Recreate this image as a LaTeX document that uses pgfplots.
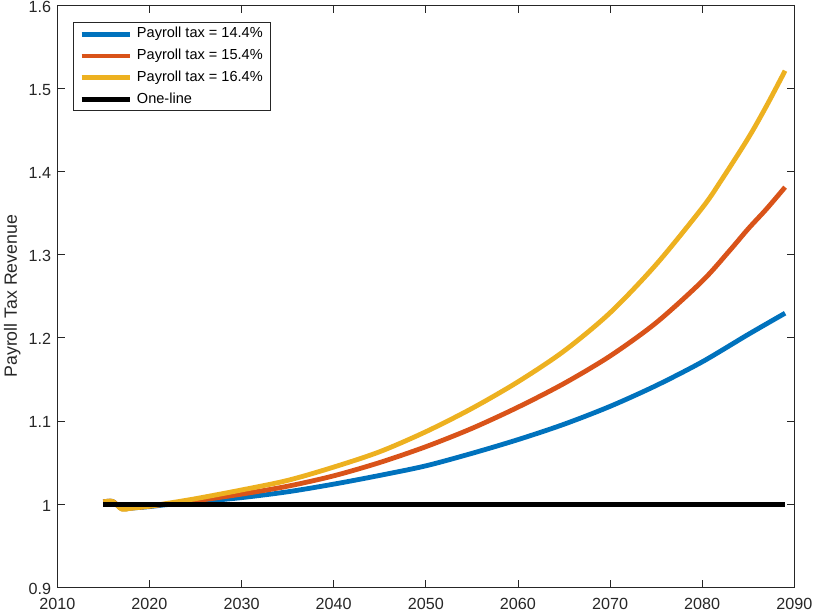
\documentclass[border=0pt]{standalone}
\usepackage{pgfplots}
\pgfplotsset{compat=1.18}
\usepackage{fontspec}
\setmainfont{Liberation Sans}

\definecolor{mblue}{rgb}{0,0.447,0.741}
\definecolor{mred}{rgb}{0.85,0.325,0.098}
\definecolor{myellow}{rgb}{0.929,0.694,0.125}
\definecolor{axgray}{rgb}{0.15,0.15,0.15}

% Payroll tax revenue relative to the one-line baseline
\pgfplotstableread{
year  rev
2015  1.0026
2016  1.0032
2017  0.9945
2018  0.9952
2020  0.9970
2022  0.9995
2025  1.0025
2030  1.0078
2035  1.0148
2040  1.0240
2045  1.0345
2050  1.0460
2055  1.0610
2060  1.0775
2065  1.0960
2070  1.1175
2075  1.1425
2080  1.1710
2085  1.2040
2089  1.2295
}\taxA

\pgfplotstableread{
year  rev
2015  1.0026
2016  1.0032
2017  0.9945
2018  0.9953
2020  0.9975
2022  1.0003
2025  1.0040
2030  1.0120
2035  1.0215
2040  1.0340
2045  1.0500
2050  1.0690
2055  1.0910
2060  1.1165
2065  1.1450
2070  1.1780
2075  1.2180
2080  1.2680
2083  1.3050
2085  1.3310
2087  1.3550
2089  1.3810
}\taxB

\pgfplotstableread{
year  rev
2015  1.0026
2016  1.0032
2017  0.9940
2018  0.9950
2020  0.9975
2022  1.0010
2025  1.0065
2030  1.0170
2035  1.0285
2040  1.0445
2045  1.0630
2050  1.0870
2055  1.1150
2060  1.1470
2065  1.1840
2070  1.2300
2075  1.2880
2080  1.3560
2082  1.3880
2085  1.4400
2087  1.4790
2089  1.5210
}\taxC

\pgfplotstableread{
year  rev
2015  1
2089  1
}\oneline

\begin{document}
\begin{tikzpicture}
\begin{axis}[
  scale only axis,
  width=737bp, height=582.3bp,
  xmin=2010, xmax=2090, ymin=0.9, ymax=1.6,
  xtick={2010,2020,2030,2040,2050,2060,2070,2080,2090},
  ytick={0.9,1,1.1,1.2,1.3,1.4,1.5,1.6},
  yticklabels={0.9,1,1.1,1.2,1.3,1.4,1.5,1.6},
  tick align=inside,
  xtick pos=both, ytick pos=both,
  xticklabel pos=left, yticklabel pos=left,
  major tick length=7.7bp,
  axis line style={draw=axgray, line width=0.8bp},
  every tick/.style={draw=axgray, line width=0.8bp},
  /pgf/number format/assume math mode=true,
  /pgf/number format/1000 sep={},
  tick label style={font=\fontsize{16.2}{19}\selectfont, text=axgray},
  xticklabel style={yshift=-7.4bp},
  yticklabel style={xshift=-2.6bp, yshift=-1.5bp},
  ylabel={Payroll Tax Revenue},
  ylabel style={font=\fontsize{17.8}{21}\selectfont, text=axgray,
    at={(axis description cs:0,0.5)}, anchor=center, yshift=45bp},
  legend style={at={(0,1)}, anchor=north west, xshift=16bp, yshift=-17.5bp,
    draw=axgray, line width=0.8bp, fill=white,
    font=\fontsize{14.6}{17}\selectfont,
    inner xsep=5.5bp, inner ysep=0.5bp, row sep=0.3bp, column sep=3bp,
    nodes={inner ysep=4bp, text height=10.5bp, text depth=3bp}},
  legend cell align=left,
  legend image code/.code={\draw[#1] (0bp,0bp) -- (48bp,0bp);},
  every axis plot/.append style={line width=4.8bp, line join=round},
]
\addplot[mblue, smooth, tension=0.5] table[x=year, y=rev] {\taxA};
\addlegendentry{Payroll tax = 14.4\%}
\addplot[mred, smooth, tension=0.5] table[x=year, y=rev] {\taxB};
\addlegendentry{Payroll tax = 15.4\%}
\addplot[myellow, smooth, tension=0.5] table[x=year, y=rev] {\taxC};
\addlegendentry{Payroll tax = 16.4\%}
\addplot[black] table[x=year, y=rev] {\oneline};
\addlegendentry{One-line}
\coordinate (sw) at (rel axis cs:0,0);
\coordinate (ne) at (rel axis cs:1,1);
\end{axis}
\pgfresetboundingbox
\path[use as bounding box] ([shift={(-57.3bp,-26.7bp)}]sw) rectangle ([shift={(19.7bp,5bp)}]ne);
\end{tikzpicture}
\end{document}
